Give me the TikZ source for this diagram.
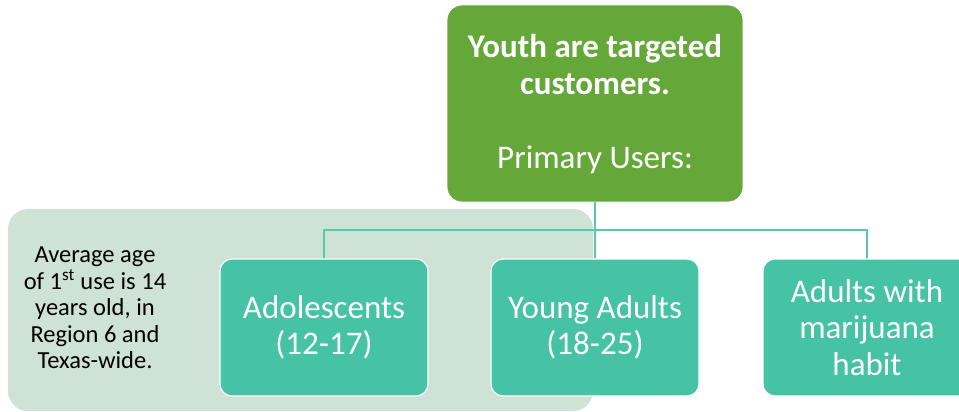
\documentclass[tikz,border=0pt]{standalone}
\usepackage{fontspec}
\setmainfont{Carlito}
\begin{document}
\begin{tikzpicture}[x=1pt,y=-1pt,
  topbox/.style={fill=topgreen,draw=white,line width=0.8pt,rounded corners=15pt,inner sep=0pt},
  userbox/.style={fill=userteal,draw=white,line width=1.2pt,rounded corners=12pt,inner sep=0pt},
  link/.style={draw=linkteal,line width=2pt},
  boxtext/.style={text=white,align=center,font=\fontsize{33}{36.5}\selectfont}]
\definecolor{topgreen}{HTML}{66A73A}
\definecolor{userteal}{HTML}{46C2A4}
\definecolor{linkteal}{HTML}{5BC8AC}
\definecolor{panelgreen}{HTML}{CFE2D6}
\useasboundingbox (0,0) rectangle (959,412);
% shaded note panel behind the first two groups
\fill[panelgreen,rounded corners=20pt] (8,209) rectangle (593,411);
\node[align=center,font=\fontsize{24.5}{26.5}\selectfont] (note) at (95,308)
  {Average age\\of 1\textsuperscript{st} use is 14\\years old, in\\Region 6 and\\Texas-wide.};
% top box
\path[topbox] (447,5) rectangle (743,202);
\node (top) at (595,103.5) [minimum width=296pt,minimum height=197pt] {};
\node[boxtext,font=\bfseries\fontsize{33}{37}\selectfont] (title) at (595,65) {Youth are targeted\\customers.};
\node[boxtext] (primary) at (595,160) {Primary Users:};
% connectors
\coordinate (bus) at (595,230);
\node[minimum width=208pt,minimum height=137pt] (ado) at (324,327.5) {};
\node[minimum width=208pt,minimum height=137pt] (young) at (595,327.5) {};
\node[minimum width=208pt,minimum height=137pt] (adult) at (867,327.5) {};
\draw[link] (top.south) -- (bus);
\draw[link] (ado.north) |- (bus) -| (adult.north);
\draw[link] (bus) -- (young.north);
% user boxes
\path[userbox] (220,259) rectangle (428,396);
\path[userbox] (491,259) rectangle (699,396);
\path[userbox] (763,259) rectangle (971,396);
\node[boxtext] at (ado) {Adolescents\\(12-17)};
\node[boxtext] at (young) {Young Adults\\(18-25)};
\node[boxtext] at (adult) {Adults with\\marijuana\\habit};
\end{tikzpicture}
\end{document}
